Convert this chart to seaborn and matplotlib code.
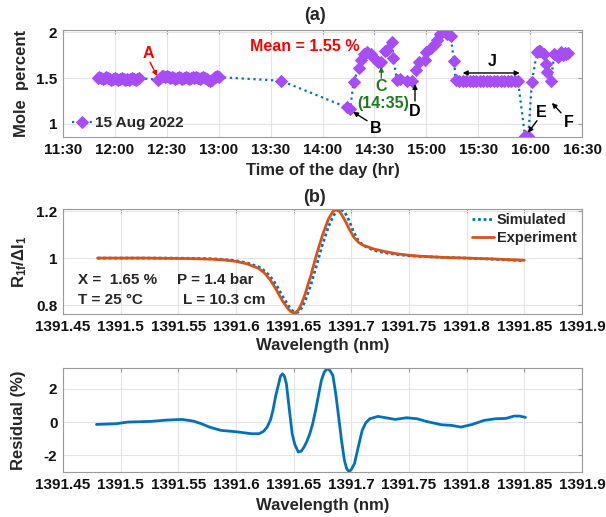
import numpy as np
import pandas as pd
import matplotlib
matplotlib.use("Agg")
import matplotlib.pyplot as plt
import seaborn as sns
from matplotlib.ticker import FixedLocator

sns.set_style("white")
plt.rcParams["font.family"] = ["Liberation Sans", "DejaVu Sans"]
plt.rcParams["font.weight"] = "bold"
plt.rcParams["axes.labelweight"] = "bold"
plt.rcParams["mathtext.fontset"] = "custom"
plt.rcParams["mathtext.rm"] = "Liberation Sans:bold"
plt.rcParams["mathtext.it"] = "Liberation Sans:bold"
plt.rcParams["mathtext.bf"] = "Liberation Sans:bold"

# ---------------- (a) mole percent vs time of day ----------------
seg1_start = "11:50"   # 1-min samples
seg1_vals = [1.50, 1.51, 1.50, 1.49, 1.50, 1.51, 1.50, 1.49, 1.48, 1.49, 1.50, 1.49,
             1.48, 1.49, 1.50, 1.49, 1.48, 1.49, 1.48, 1.49, 1.50, 1.49, 1.48, 1.49, 1.50]
seg2_start = "12:25"   # 1-min samples
seg2_vals = [1.48, 1.50, 1.52, 1.52, 1.51, 1.52, 1.51, 1.50, 1.51, 1.50, 1.49, 1.50,
             1.51, 1.50, 1.49, 1.50, 1.51, 1.50, 1.49, 1.50, 1.51, 1.50, 1.51, 1.50,
             1.49, 1.50, 1.51, 1.50, 1.49, 1.48, 1.47, 1.48, 1.50, 1.51, 1.52, 1.51]
mid_times = ["13:36", "14:14", "14:16", "14:18", "14:21", "14:22", "14:24", "14:26",
             "14:28", "14:30", "14:32", "14:34", "14:36", "14:37", "14:40", "14:41",
             "14:43", "14:45", "14:49", "14:52", "14:54", "14:56", "14:59", "15:00",
             "15:03", "15:05", "15:06", "15:08", "15:10", "15:12", "15:14", "15:16"]
mid_vals = [1.47, 1.18, 1.16, 1.46, 1.61, 1.70, 1.76, 1.78,
            1.76, 1.72, 1.68, 1.67, 1.79, 1.81, 1.89, 1.72,
            1.48, 1.49, 1.47, 1.47, 1.59, 1.67, 1.70, 1.78,
            1.83, 1.87, 1.92, 1.98, 2.01, 1.98, 1.96, 1.69]
plateau_start = "15:17"  # 2-min samples (region J)
plateau_vals = [1.48, 1.47, 1.47, 1.47, 1.47, 1.47, 1.47, 1.47, 1.47, 1.47,
                1.47, 1.47, 1.47, 1.47, 1.47, 1.47, 1.47, 1.47, 1.47]
late_times = ["15:57", "15:58", "15:59", "16:01", "16:04", "16:05", "16:06", "16:08",
              "16:09", "16:10", "16:12", "16:14", "16:16", "16:17", "16:18", "16:19",
              "16:20", "16:21", "16:22"]
late_vals = [0.87, 0.86, 0.87, 1.46, 1.78, 1.80, 1.79, 1.76,
             1.65, 1.57, 1.47, 1.76, 1.73, 1.76, 1.78, 1.75,
             1.77, 1.76, 1.77]
time_ticks = ["11:30", "12:00", "12:30", "13:00", "13:30", "14:00",
              "14:30", "15:00", "15:30", "16:00", "16:30"]
mole_ticks = [1, 1.5, 2]

# ---------------- (b) R1f/dI1 vs wavelength ----------------
wl_exp = [1391.48, 1391.50, 1391.52, 1391.54, 1391.56, 1391.58, 1391.59, 1391.60,
          1391.61, 1391.62, 1391.625, 1391.63, 1391.635, 1391.64, 1391.645, 1391.648,
          1391.651, 1391.654, 1391.657, 1391.66, 1391.665, 1391.67, 1391.675, 1391.68,
          1391.684, 1391.687, 1391.690, 1391.694, 1391.698, 1391.702, 1391.706, 1391.71,
          1391.72, 1391.73, 1391.74, 1391.75, 1391.76, 1391.78, 1391.80, 1391.82,
          1391.84, 1391.85]
r_exp = [1.000, 1.000, 1.000, 0.999, 0.998, 0.995, 0.992, 0.986,
         0.975, 0.955, 0.935, 0.905, 0.865, 0.820, 0.785, 0.770,
         0.766, 0.778, 0.808, 0.848, 0.928, 1.018, 1.098, 1.165,
         1.198, 1.207, 1.198, 1.165, 1.125, 1.090, 1.068, 1.055,
         1.038, 1.027, 1.018, 1.012, 1.008, 1.003, 1.000, 0.997,
         0.993, 0.991]
wl_sim = wl_exp
r_sim = [1.000, 1.000, 1.000, 1.000, 0.999, 0.997, 0.994, 0.989,
         0.979, 0.962, 0.945, 0.920, 0.885, 0.840, 0.800, 0.780,
         0.768, 0.770, 0.788, 0.818, 0.888, 0.972, 1.058, 1.132,
         1.176, 1.200, 1.210, 1.198, 1.160, 1.110, 1.075, 1.055,
         1.032, 1.022, 1.015, 1.010, 1.007, 1.003, 1.000, 0.996,
         0.991, 0.989]
wl_ticks = [1391.45, 1391.5, 1391.55, 1391.6, 1391.65, 1391.7, 1391.75, 1391.8, 1391.85, 1391.9]
wl_tick_labels = ["1391.45", "1391.5", "1391.55", "1391.6", "1391.65", "1391.7",
                  "1391.75", "1391.8", "1391.85", "1391.9"]
r_ticks = [0.8, 1, 1.2]

# ---------------- residual ----------------
wl_res = [1391.479, 1391.496, 1391.506, 1391.526, 1391.540, 1391.553, 1391.563, 1391.570,
          1391.577, 1391.587, 1391.600, 1391.6135, 1391.620, 1391.624, 1391.627, 1391.630,
          1391.632, 1391.6345, 1391.637, 1391.6385, 1391.6403, 1391.642, 1391.6437, 1391.646,
          1391.6487, 1391.651, 1391.654, 1391.6565, 1391.659, 1391.6615, 1391.664, 1391.6665,
          1391.669, 1391.6715, 1391.674, 1391.6765, 1391.679, 1391.6815, 1391.684, 1391.6865,
          1391.689, 1391.6915, 1391.694, 1391.696, 1391.698, 1391.700, 1391.7027, 1391.706,
          1391.7094, 1391.7125, 1391.716, 1391.723, 1391.7315, 1391.738, 1391.748, 1391.757,
          1391.765, 1391.778, 1391.787, 1391.795, 1391.805, 1391.815, 1391.825, 1391.834,
          1391.841, 1391.846, 1391.851]
res = [-0.14, -0.10, 0.00, 0.04, 0.12, 0.16, 0.06, -0.10,
       -0.30, -0.50, -0.58, -0.70, -0.70, -0.55, -0.30, 0.15,
       0.70, 1.60, 2.30, 2.75, 2.90, 2.75, 2.30, 0.90,
       -0.70, -1.35, -1.80, -1.75, -1.50, -1.15, -0.70, -0.10,
       0.70, 1.60, 2.50, 3.00, 3.22, 3.10, 2.80, 1.70,
       0.30, -1.10, -2.30, -2.80, -2.98, -2.85, -2.50, -1.50,
       -0.50, -0.05, 0.20, 0.34,  0.24, 0.16, 0.26, 0.20,
       0.04, -0.16, -0.20, -0.30, -0.14, 0.10, 0.20, 0.22,
       0.36, 0.36, 0.28]
res_ticks = [-2, 0, 2]

BLUE = "#0072BD"
ORANGE = "#D95319"
PURPLE = "#A64DF5"
GREEN = "#1E7B1E"
SPINE = "#9a9a9a"
GRID = "#e4e4e4"


def hm(s):
    h, m = s.split(":")
    return int(h) + int(m) / 60.0


def seq(start, n, step):
    t0 = hm(start)
    return [t0 + i * step / 60.0 for i in range(n)]


hours = (seq(seg1_start, len(seg1_vals), 1) + seq(seg2_start, len(seg2_vals), 1)
         + [hm(t) for t in mid_times] + seq(plateau_start, len(plateau_vals), 2)
         + [hm(t) for t in late_times])
mole = seg1_vals + seg2_vals + mid_vals + plateau_vals + late_vals
df_a = pd.DataFrame({"hour": hours, "mole": mole})

fig = plt.figure(figsize=(6.06, 5.17), dpi=100)
L, W = 63 / 606, 519 / 606
ax1 = fig.add_axes([L, 1 - 137 / 517, W, 107 / 517])
ax2 = fig.add_axes([L, 1 - 314 / 517, W, 105 / 517])
ax3 = fig.add_axes([L, 1 - 472 / 517, W, 104 / 517])


def style(ax):
    ax.grid(True, color=GRID, lw=0.8)
    ax.set_axisbelow(True)
    for s in ax.spines.values():
        s.set_color(SPINE)
        s.set_linewidth(0.8)
    ax.tick_params(direction="in", top=True, right=True, length=3, color=SPINE,
                   labelsize=11, pad=4, labelcolor="#111111")
    for lab in ax.get_xticklabels() + ax.get_yticklabels():
        lab.set_fontweight("bold")


# ---- panel (a)
sns.lineplot(data=df_a, x="hour", y="mole", ax=ax1, color=BLUE, linestyle=":", lw=1.6,
             marker="D", markersize=6.3, markerfacecolor=PURPLE, markeredgecolor=PURPLE,
             estimator=None, sort=True, label="15 Aug 2022")
ax1.set_xlim(hm("11:30"), hm("16:30"))
ax1.set_ylim(0.855, 2.025)
ax1.xaxis.set_major_locator(FixedLocator([hm(t) for t in time_ticks]))
ax1.set_xticklabels(time_ticks)
ax1.set_yticks(mole_ticks)
ax1.set_yticklabels(["1", "1.5", "2"])
ax1.set_xlabel("Time of the day (hr)", fontsize=12, fontweight="bold")
ax1.set_ylabel("Mole  percent", fontsize=12, fontweight="bold")
style(ax1)
ax1.legend(loc="center left", bbox_to_anchor=(0.012, 0.13), frameon=False,
           prop={"weight": "bold", "size": 11}, handlelength=1.3, handletextpad=0.2,
           borderaxespad=0.0, borderpad=0.2)

ann = dict(fontsize=11.5, fontweight="bold", ha="center", va="center")


def arrow(ax, start, end, color, style="-|>"):
    ax.annotate("", xy=end, xytext=start,
                arrowprops=dict(arrowstyle=style, color=color, lw=1.0, mutation_scale=7,
                                shrinkA=0, shrinkB=0))


ax1.text(hm("13:50"), 1.84, "Mean = 1.55 %", color="red", **ann)
ax1.text(12.319, 1.772, "A", color="red", **ann)
arrow(ax1, (12.338, 1.674), (12.406, 1.522), "red")
ax1.text(14.515, 0.946, "B", color="black", **ann)
arrow(ax1, (14.429, 1.033), (14.294, 1.130), "black")
arrow(ax1, (hm("14:34"), 1.50), (hm("14:34"), 1.625), GREEN)
ax1.text(hm("14:34"), 1.41, "C", color=GREEN, **ann)
ax1.text(hm("14:35"), 1.225, "(14:35)", color=GREEN, **ann)
ax1.text(14.891, 1.13, "D", color="black", **ann)
arrow(ax1, (14.891, 1.25), (14.891, 1.435), "black")
arrow(ax1, (hm("15:54"), 1.555), (hm("15:21"), 1.555), "black", "<|-|>")
ax1.text(hm("15:38"), 1.68, "J", color="black", **ann)
ax1.text(16.105, 1.12, "E", color="black", **ann)
arrow(ax1, (16.066, 1.033), (15.98, 0.902), "black")
ax1.text(16.375, 1.011, "F", color="black", **ann)
arrow(ax1, (16.298, 1.12), (16.21, 1.228), "black")

# ---- panel (b)
df_sim = pd.DataFrame({"wl": wl_sim, "r": r_sim})
df_exp = pd.DataFrame({"wl": wl_exp, "r": r_exp})
sns.lineplot(data=df_sim, x="wl", y="r", ax=ax2, color=BLUE, linestyle=(0, (1, 1)), lw=2.0,
             estimator=None, sort=False, label="Simulated")
sns.lineplot(data=df_exp, x="wl", y="r", ax=ax2, color=ORANGE, lw=2.0,
             estimator=None, sort=False, label="Experiment")
ax2.set_xlim(1391.45, 1391.9)
ax2.set_ylim(0.762, 1.209)
ax2.set_xticks(wl_ticks)
ax2.set_xticklabels(wl_tick_labels)
ax2.set_yticks(r_ticks)
ax2.set_yticklabels(["0.8", "1", "1.2"])
ax2.set_xlabel("Wavelength (nm)", fontsize=12, fontweight="bold")
ax2.set_ylabel(r"R$_{1f}$/$\Delta$I$_1$", fontsize=12, fontweight="bold")
style(ax2)
ax2.legend(loc="upper right", bbox_to_anchor=(0.995, 0.985), frameon=False,
           prop={"weight": "bold", "size": 10.5}, handlelength=1.5, handletextpad=0.2,
           labelspacing=0.25, borderaxespad=0.0, borderpad=0.2)
tb = dict(fontsize=11, fontweight="bold", va="center", ha="left", transform=ax2.transAxes)
ax2.text(0.029, 0.325, "X =  1.65 %", **tb)
ax2.text(0.220, 0.325, "P = 1.4 bar", **tb)
ax2.text(0.029, 0.133, "T = 25 \u00b0C", **tb)
ax2.text(0.232, 0.133, "L = 10.3 cm", **tb)

# ---- residual
df_res = pd.DataFrame({"wl": wl_res, "res": res})
sns.lineplot(data=df_res, x="wl", y="res", ax=ax3, color=BLUE, lw=2.0,
             estimator=None, sort=False)
ax3.set_xlim(1391.45, 1391.9)
ax3.set_ylim(-3.0, 3.25)
ax3.set_xticks(wl_ticks)
ax3.set_xticklabels(wl_tick_labels)
ax3.set_yticks(res_ticks)
ax3.set_yticklabels(["-2", "0", "2"])
ax3.set_xlabel("Wavelength (nm)", fontsize=12, fontweight="bold")
ax3.set_ylabel("Residual (%)", fontsize=12, fontweight="bold")
style(ax3)

# label positions
for ax, yx, xy in [(ax1, (22 - 63) / 519, -0.31), (ax2, (20 - 63) / 519, -0.30),
                   (ax3, (19 - 63) / 519, -0.32)]:
    ax.yaxis.label.set_verticalalignment("center")
    ax.yaxis.set_label_coords(yx, 0.5)
    ax.xaxis.label.set_verticalalignment("center")
    ax.xaxis.set_label_coords(0.5, xy)

fig.text(315 / 606, 1 - 15 / 517, "(a)", ha="center", va="center", fontsize=13, fontweight="bold")
fig.text(315 / 606, 1 - 197 / 517, "(b)", ha="center", va="center", fontsize=13, fontweight="bold")

fig.savefig("out.png", dpi=100)
